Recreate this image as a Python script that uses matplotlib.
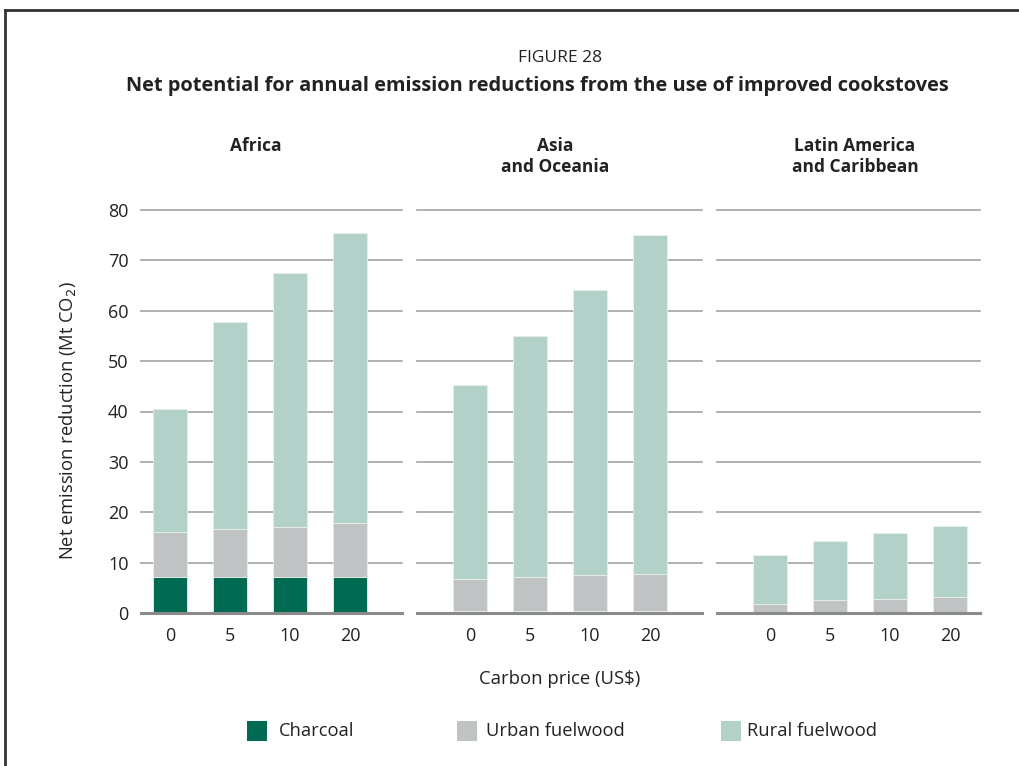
import matplotlib

matplotlib.use("Agg")
import matplotlib.pyplot as plt
from matplotlib.lines import Line2D
from matplotlib.patches import Rectangle
import numpy as np

plt.rcParams["font.family"] = ["Open Sans", "DejaVu Sans"]

prices = ["0", "5", "10", "20"]
regions = ["Africa", "Asia\nand Oceania", "Latin America\nand Caribbean"]
series = ["Charcoal", "Urban fuelwood", "Rural fuelwood"]

# stacked values (Mt CO2)
charcoal = [
    [7.2, 7.2, 7.2, 7.2],
    [0.3, 0.3, 0.3, 0.3],
    [0.0, 0.0, 0.0, 0.0],
]
urban = [
    [8.9, 9.4, 9.9, 10.6],
    [6.5, 6.8, 7.2, 7.4],
    [1.85, 2.5, 2.85, 3.2],
]
rural = [
    [24.4, 41.2, 50.3, 57.6],
    [38.4, 47.9, 56.6, 67.3],
    [9.65, 11.7, 12.95, 14.1],
]

colors = ["#006a52", "#c0c3c4", "#b2d1c8"]
TXT = "#222222"

W, H = 1019, 766
fig = plt.figure(figsize=(W / 100, H / 100), dpi=100)

# panel extents in pixels and x limits
panels = [(141, 402, (-0.483, 3.867)), (417, 702, (-0.883, 3.867)), (717, 980, (-0.883, 3.5))]
y0_px, y80_px = 613, 210
title_x = [256, 555, 855]

x = np.arange(len(prices))
for i, (left, right, xlim) in enumerate(panels):
    ax = fig.add_axes([left / W, 1 - y0_px / H, (right - left) / W, (y0_px - y80_px) / H])
    c = np.array(charcoal[i])
    u = np.array(urban[i])
    r = np.array(rural[i])
    ax.bar(x, c, width=0.57, color=colors[0], edgecolor="#e8efec", linewidth=0.6, zorder=3)
    ax.bar(x, u, width=0.57, bottom=c, color=colors[1], edgecolor="#e8efec", linewidth=0.6, zorder=3)
    ax.bar(x, r, width=0.57, bottom=c + u, color=colors[2], edgecolor="#e8efec", linewidth=0.6, zorder=3)
    ax.set_xlim(*xlim)
    ax.set_ylim(0, 80)
    ax.set_yticks(range(0, 81, 10))
    for yv in range(10, 81, 10):
        ax.axhline(yv, color="#a3a3a3", lw=1.2, zorder=1, clip_on=False)
    ax.axhline(0, color="#8a8a8a", lw=2.2, zorder=4, clip_on=False)
    for s in ax.spines.values():
        s.set_visible(False)
    ax.set_xticks(x)
    ax.set_xticklabels(prices, fontsize=13, color=TXT)
    ax.tick_params(axis="both", length=0, pad=10)
    if i == 0:
        ax.tick_params(axis="y", labelsize=13, labelcolor=TXT, pad=9)
    else:
        ax.set_yticklabels([])
    fig.text(title_x[i] / W, 1 - 137 / H, regions[i], ha="center", va="top",
             fontsize=12.5, fontweight="bold", color=TXT, linespacing=1.25)

fig.text(68 / W, 1 - 421 / H, "Net emission reduction (Mt CO$_2$)", rotation=90,
         ha="center", va="center", fontsize=13.2, color=TXT)
fig.text(560 / W, 1 - 58 / H, "FIGURE 28", ha="center", va="center", fontsize=12.5, color=TXT)
fig.text(537 / W, 1 - 86 / H,
         "Net potential for annual emission reductions from the use of improved cookstoves",
         ha="center", va="center", fontsize=14.4, fontweight="bold", color=TXT)
fig.text(560 / W, 1 - 679 / H, "Carbon price (US\\$)", ha="center", va="center", fontsize=13.3, color=TXT)

# legend
leg_pos = [(247, 279), (457, 486), (721, 747)]
for (sx, tx), name, col in zip(leg_pos, series, colors):
    fig.patches.append(Rectangle((sx / W, 1 - 741 / H), 20 / W, 20 / H, transform=fig.transFigure,
                                 facecolor=col, edgecolor="none"))
    fig.text(tx / W, 1 - 731 / H, name, ha="left", va="center", fontsize=13.2, color=TXT)

# outer frame
fig.add_artist(Line2D([5 / W, 5 / W], [0, 1 - 10 / H], transform=fig.transFigure, color="#333333", lw=2))
fig.add_artist(Line2D([5 / W, 1], [1 - 10 / H, 1 - 10 / H], transform=fig.transFigure, color="#333333", lw=2))

fig.savefig("out.png", dpi=100, facecolor="white")
